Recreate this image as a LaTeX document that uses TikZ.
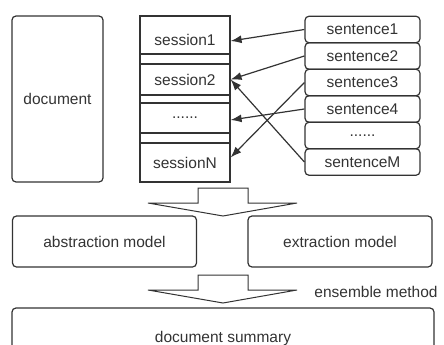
\documentclass[tikz,border=0pt]{standalone}
\usepackage{fontspec}
\setmainfont{Liberation Sans}
\usetikzlibrary{arrows.meta}

\begin{document}
\begin{tikzpicture}[x=1pt, y=-1pt, line width=1.2pt, color=black!80,
        every node/.style={font=\fontsize{15.5}{18}\selectfont, inner sep=0pt},
        rbox/.style={draw, rounded corners=4pt},
        sbox/.style={draw, minimum width=90},
        link/.style={-{Latex[length=11pt,width=8pt]}},
        bigarrow/.style={draw, fill=white, line width=1pt}]
            \useasboundingbox (0, 0) rectangle (444, 345);
            \clip (0, 0) rectangle (444, 345);

            \node[rbox, minimum width=91, minimum height=166] (doc) at (57.5, 99) {document};

            \node[draw, minimum width=90, minimum height=166] (col) at (185, 99) {};
            \node[sbox, minimum height=38, text height=25pt, text depth=3pt] (sess1) at (185, 35) {session1};
            \node[sbox, minimum height=31] (sess2) at (185, 79.5) {session2};
            \node[sbox, minimum height=30] (sessdots) at (185, 118) {......};
            \node[sbox, minimum height=39] (sessN) at (185, 162.5) {sessionN};

            \node[rbox, minimum width=115, minimum height=26.5] (sent1) at (362.5, 29.5) {sentence1};
            \node[rbox, minimum width=115, minimum height=26.5] (sent2) at (362.5, 56) {sentence2};
            \node[rbox, minimum width=115, minimum height=26.5] (sent3) at (362.5, 82.5) {sentence3};
            \node[rbox, minimum width=115, minimum height=26.5] (sent4) at (362.5, 109) {sentence4};
            \node[rbox, minimum width=115, minimum height=26.5] (sentdots) at (362.5, 135.5) {......};
            \node[rbox, minimum width=115, minimum height=26.5] (sentM) at (362.5, 162) {sentenceM};

            \draw[link] (sent1.west) -- ([yshift=-6pt]sess1.east);
            \draw[link] (sent2.west) -- (sess2.east);
            \draw[link] (sent3.west) -- ([yshift=5pt]sessN.east);
            \draw[link] (sent4.west) -- ([yshift=-2pt]sessdots.east);
            \draw[link] (sentM.west) -- (sess2.east);

            \draw[bigarrow] (198, 188) -- (248, 188) -- (248, 203) -- (297, 203)
                -- (223, 216) -- (148, 203) -- (198, 203) -- cycle;

            \node[rbox, minimum width=184, minimum height=51] (abs) at (104.5, 241.5) {abstraction model};
            \node[rbox, minimum width=184, minimum height=51] (ext) at (340, 241.5) {extraction model};

            \draw[bigarrow] (198, 275) -- (248, 275) -- (248, 290) -- (297, 290)
                -- (223, 303) -- (148, 290) -- (198, 290) -- cycle;
            \node (ens) at (376, 292) {ensemble method};

            \node[rbox, minimum width=422, minimum height=60] (summary) at (223, 338) {document summary};
        \end{tikzpicture}
\end{document}
